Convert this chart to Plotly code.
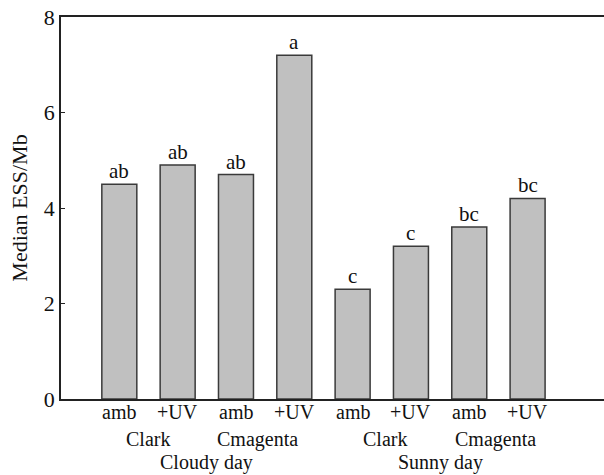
import plotly.graph_objects as go

# Median ESS/Mb per treatment, grouped by weather and cultivar
treatments = ["amb", "+UV", "amb", "+UV", "amb", "+UV", "amb", "+UV"]
cultivars = ["Clark", "Cmagenta", "Clark", "Cmagenta"]
conditions = ["Cloudy day", "Sunny day"]
median_ess = [4.5, 4.9, 4.7, 7.2, 2.3, 3.2, 3.6, 4.2]
letters = ["ab", "ab", "ab", "a", "c", "c", "bc", "bc"]
y_ticks = [0, 2, 4, 6, 8]

FONT = "Liberation Serif"
INK = "#111"
positions = list(range(1, len(median_ess) + 1))

fig = go.Figure()
fig.add_trace(go.Bar(
    x=positions,
    y=median_ess,
    width=0.6,
    marker=dict(color="#c0c0c0", line=dict(color="#3a3a3a", width=1.5)),
    hoverinfo="x+y",
))

# significance letters sitting on top of each bar
for x, v, lab in zip(positions, median_ess, letters):
    fig.add_annotation(x=x, y=v, xref="x", yref="y", text=lab, showarrow=False,
                       yanchor="bottom", yshift=-1,
                       font=dict(family=FONT, size=21, color=INK))

# first row under the axis: treatment under each bar
for x, name in zip(positions, treatments):
    fig.add_annotation(x=x, y=0, xref="x", yref="y", text=name, showarrow=False,
                       yshift=-13, font=dict(family=FONT, size=20, color=INK))

# second row: cultivar under each pair of bars
cultivar_nudge = [0, -8, 3, -3]
for i, name in enumerate(cultivars):
    fig.add_annotation(x=1.5 + 2 * i, y=0, xref="x", yref="y", text=name,
                       showarrow=False, yshift=-40, xshift=cultivar_nudge[i],
                       font=dict(family=FONT, size=20, color=INK))

# third row: weather condition under each group of four
for i, name in enumerate(conditions):
    fig.add_annotation(x=2.5 + 4 * i, y=0, xref="x", yref="y", text=name,
                       showarrow=False, yshift=-63,
                       font=dict(family=FONT, size=20, color=INK))

fig.update_layout(
    width=604, height=475,
    margin=dict(l=61, r=0, t=17, b=76),
    paper_bgcolor="white", plot_bgcolor="white",
    showlegend=False,
    font=dict(family=FONT, color=INK),
    xaxis=dict(
        range=[0, 9.31],
        showticklabels=False,
        showline=True, linecolor="#222", linewidth=1.5, mirror=True,
        ticks="", showgrid=False, zeroline=False,
    ),
    yaxis=dict(
        range=[0, 8],
        tickmode="array", tickvals=y_ticks,
        tickfont=dict(family=FONT, size=22, color=INK),
        ticks="inside", ticklen=4, tickcolor="#222",
        showline=True, linecolor="#222", linewidth=1.5,
        showgrid=False, zeroline=False,
        title=dict(text="Median ESS/Mb", font=dict(family=FONT, size=22, color=INK),
                   standoff=10),
    ),
)

fig.write_html("out.html")
